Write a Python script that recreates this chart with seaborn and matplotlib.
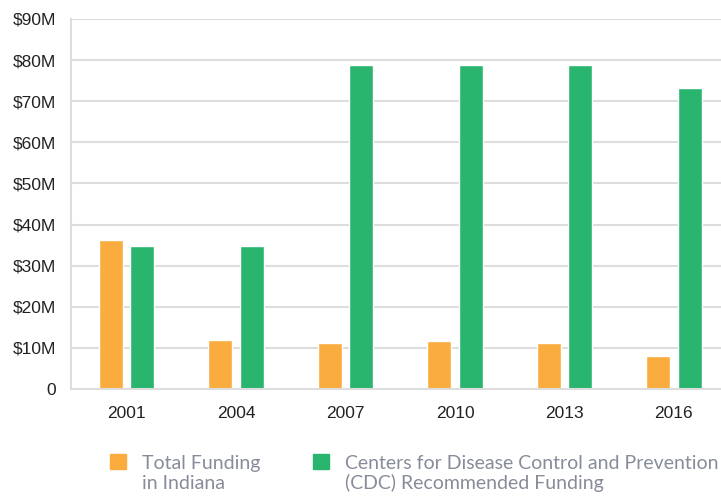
import pandas as pd
import matplotlib.pyplot as plt
import seaborn as sns
from matplotlib.patches import Patch
from matplotlib.ticker import FuncFormatter

# data (millions of dollars)
years = ["2001", "2004", "2007", "2010", "2013", "2016"]
indiana = [36.2, 11.9, 11.2, 11.7, 11.3, 8.0]
cdc = [34.8, 34.8, 78.8, 78.8, 78.8, 73.2]
series = ["Total Funding\nin Indiana", "Centers for Disease Control and Prevention\n(CDC) Recommended Funding"]
colors = ["#FAAD3E", "#29B56E"]

df = pd.DataFrame({
    "year": years * 2,
    "value": indiana + cdc,
    "series": [series[0]] * len(years) + [series[1]] * len(years),
})

sns.set_style("white")
plt.rcParams["font.family"] = ["Liberation Sans", "DejaVu Sans"]

fig = plt.figure(figsize=(7.21, 4.96), dpi=100)
ax = fig.add_axes([71 / 721, 1 - 389 / 496, 1 - 71 / 721, 370 / 496])

sns.barplot(data=df, x="year", y="value", hue="series", palette=colors,
            width=0.57, gap=0.23, saturation=1, ax=ax, legend=False)

ax.set_ylim(0, 90)
ax.set_xlim(-0.507, 5.43)
ax.set_yticks(range(0, 91, 10))
ax.yaxis.set_major_formatter(FuncFormatter(lambda v, p: "0" if v == 0 else f"${v:.0f}M"))
ax.yaxis.grid(True, color="#dddddd", linewidth=1.5)
ax.set_axisbelow(True)
for s in ["top", "right"]:
    ax.spines[s].set_visible(False)
for s in ["left", "bottom"]:
    ax.spines[s].set_color("#dddddd")
    ax.spines[s].set_linewidth(1.5)
ax.tick_params(axis="both", length=0, labelsize=12.5, colors="#222222")
ax.tick_params(axis="y", pad=11)
ax.tick_params(axis="x", pad=12)
ax.set_xlabel("")
ax.set_ylabel("")

# legend at the bottom
handles = [Patch(color=c) for c in colors]
leg = fig.legend(handles, series, loc="upper left", bbox_to_anchor=(110 / 721, 0.083),
                 ncol=2, frameon=False, borderpad=0, borderaxespad=0,
                 handlelength=0.82, handleheight=0.82, handletextpad=0.85,
                 columnspacing=2.67, labelspacing=0.2,
                 prop={"family": ["Lato", "DejaVu Sans"], "size": 14})
for t in leg.get_texts():
    t.set_color("#878c99")
    t.set_linespacing(1.15)
for p in leg.get_patches():
    p.set_y(p.get_y() + 9)

fig.savefig("out.png", dpi=100)
